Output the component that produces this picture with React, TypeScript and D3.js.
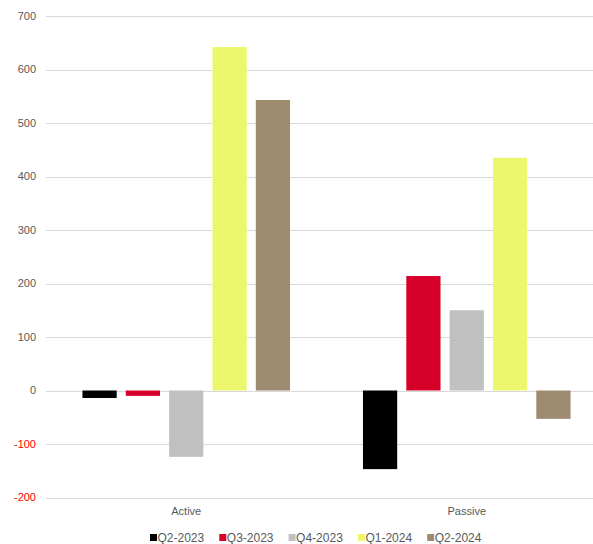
import React, { useEffect, useRef } from 'react';
import * as d3 from 'd3';

const categories = ['Active', 'Passive'];
const seriesNames = ['Q2-2023', 'Q3-2023', 'Q4-2023', 'Q1-2024', 'Q2-2024'];
const activeValues = [-14, -10, -124, 642, 543];
const passiveValues = [-147, 214, 150, 435, -53];
const seriesColors = ['#000000', '#D7002B', '#C0C0C0', '#EDF76E', '#9E8B70'];
const yTicks = [-200, -100, 0, 100, 200, 300, 400, 500, 600, 700];

function App() {
  const svgRef = useRef<SVGSVGElement | null>(null);

  useEffect(() => {
    const width = 593;
    const height = 544;
    const svg = d3.select(svgRef.current);
    svg.selectAll('*').remove();

    const values = [activeValues, passiveValues];

    const y = d3.scaleLinear().domain([-200, 700]).range([497.5, 16]);
    const x0 = d3.scaleBand().domain(categories).range([46, 607]).padding(0);
    const bw = x0.bandwidth();
    const x1 = d3.scaleBand().domain(seriesNames).range([bw * 0.13, bw * 0.87]).paddingInner(0.21);

    // gridlines
    svg.append('g')
      .selectAll('line')
      .data(yTicks)
      .enter()
      .append('line')
      .attr('x1', 46)
      .attr('x2', width)
      .attr('y1', d => Math.round(y(d)) + 0.5)
      .attr('y2', d => Math.round(y(d)) + 0.5)
      .attr('stroke', '#d9d9d9')
      .attr('stroke-width', 1);

    // y labels
    svg.append('g')
      .selectAll('text')
      .data(yTicks)
      .enter()
      .append('text')
      .attr('x', 36)
      .attr('y', d => y(d))
      .attr('dy', '0.35em')
      .attr('text-anchor', 'end')
      .style('font-family', 'Liberation Sans, Arial, sans-serif')
      .style('font-size', '11px')
      .attr('fill', d => (d < 0 ? '#FF0000' : '#595959'))
      .text(d => d);

    // bars
    const groups = svg.append('g')
      .selectAll('g')
      .data(categories)
      .enter()
      .append('g')
      .attr('transform', d => 'translate(' + x0(d) + ',0)');

    groups.selectAll('rect')
      .data((c, i) => seriesNames.map((s, j) => ({ s, v: values[i][j], color: seriesColors[j] })))
      .enter()
      .append('rect')
      .attr('x', d => x1(d.s)!)
      .attr('y', d => y(Math.max(0, d.v)))
      .attr('width', x1.bandwidth())
      .attr('height', d => Math.abs(y(d.v) - y(0)))
      .attr('fill', d => d.color);

    // category labels
    svg.append('g')
      .selectAll('text')
      .data(categories)
      .enter()
      .append('text')
      .attr('x', d => x0(d)! + bw / 2)
      .attr('y', 515)
      .attr('text-anchor', 'middle')
      .style('font-family', 'Liberation Sans, Arial, sans-serif')
      .style('font-size', '11px')
      .attr('fill', '#595959')
      .text(d => d);

    // legend
    const legend = svg.append('g')
      .selectAll('g')
      .data(seriesNames)
      .enter()
      .append('g')
      .attr('transform', (d, i) => 'translate(' + (150 + i * 69.3) + ',538)');
    legend.append('rect')
      .attr('x', 0)
      .attr('y', -4)
      .attr('width', 7)
      .attr('height', 7)
      .attr('fill', (d, i) => seriesColors[i]);
    legend.append('text')
      .attr('x', 7.5)
      .attr('y', 0)
      .attr('dy', '0.35em')
      .style('font-family', 'Liberation Sans, Arial, sans-serif')
      .style('font-size', '12px')
      .attr('fill', '#595959')
      .text(d => d);

    svg.attr('width', width).attr('height', height);
  }, []);

  return (
    <div style={{ position: 'absolute', left: 0, top: 0 }}>
      <svg ref={svgRef} width={593} height={544} style={{ display: 'block', background: '#fff' }} />
    </div>
  );
}

export default App;
